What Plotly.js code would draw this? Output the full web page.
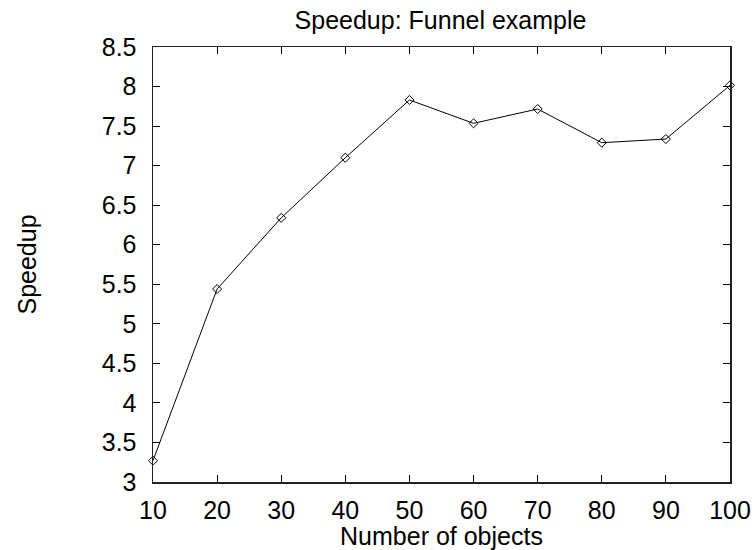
<!DOCTYPE html>
<html>
<head>
<meta charset="utf-8">
<script src="https://cdn.plot.ly/plotly-3.0.1.min.js"></script>
<style>html,body{margin:0;padding:0;background:#fff;}#chart{width:755px;height:550px;}</style>
</head>
<body>
<div id="chart"></div>
<script>
const objects = [10, 20, 30, 40, 50, 60, 70, 80, 90, 100];
const speedup = [3.27, 5.44, 6.34, 7.1, 7.83, 7.535, 7.716, 7.29, 7.336, 8.015];
const xTicks = [10, 20, 30, 40, 50, 60, 70, 80, 90, 100];
const yTicks = [3, 3.5, 4, 4.5, 5, 5.5, 6, 6.5, 7, 7.5, 8, 8.5];

const font = {family: '"Liberation Sans", Arial, sans-serif', size: 25, color: '#000'};

Plotly.newPlot('chart', [{
  x: objects, y: speedup, type: 'scatter', mode: 'lines+markers',
  line: {color: '#000', width: 1},
  marker: {symbol: 'diamond-open', size: 7, color: '#000', line: {width: 1, color: '#000'}},
  cliponaxis: false, showlegend: false
}], {
  width: 755, height: 550,
  margin: {l: 153, r: 25, t: 47, b: 68},
  paper_bgcolor: '#fff', plot_bgcolor: '#fff',
  font: font,
  title: {text: 'Speedup: Funnel example', font: font, x: 440.5 / 755, xanchor: 'center', y: 0.979, yanchor: 'top'},
  xaxis: {
    range: [10, 100], tickvals: xTicks, ticktext: xTicks.map(String),
    ticks: 'inside', ticklen: 7, tickcolor: '#000', tickwidth: 1,
    showline: true, linecolor: '#222', linewidth: 1.5, mirror: 'ticks',
    showgrid: false, zeroline: false,
    tickfont: font, ticklabelstandoff: 5,
    title: {text: 'Number of objects', font: font, standoff: 0}
  },
  yaxis: {
    range: [3, 8.5], tickvals: yTicks, ticktext: yTicks.map(String),
    ticks: 'inside', ticklen: 7, tickcolor: '#000', tickwidth: 1,
    showline: true, linecolor: '#222', linewidth: 1.5, mirror: 'ticks',
    showgrid: false, zeroline: false,
    tickfont: font, ticklabelstandoff: 10,
    title: {text: 'Speedup', font: font, standoff: 58}
  }
}, {displayModeBar: false, staticPlot: true});
</script>
</body>
</html>
